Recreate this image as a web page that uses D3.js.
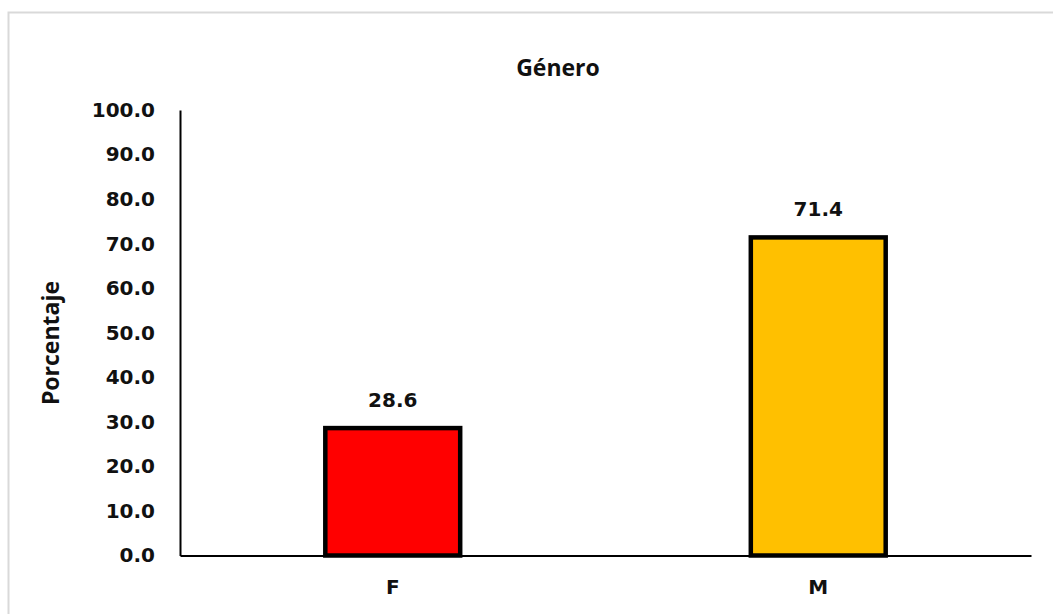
<!DOCTYPE html>
<html>
<head>
<meta charset="utf-8">
<script src="https://cdn.jsdelivr.net/npm/d3@7"></script>
<style>
  html, body { margin: 0; padding: 0; background: #fff; overflow: hidden; }
  svg { display: block; }
</style>
</head>
<body>
<svg id="chart" width="1053" height="614"></svg>
<script>
// Chart data
const categories = ["F", "M"];
const values = [28.6, 71.4];
const barColors = ["#ff0000", "#ffc000"];
const yTicks = [0, 10, 20, 30, 40, 50, 60, 70, 80, 90, 100];
const title = "Género";
const yTitle = "Porcentaje";

const svg = d3.select("#chart");
const plot = { left: 180, right: 1031, top: 110, bottom: 555.5 };

// Chart frame (runs past the visible edge on right/bottom)
svg.append("rect")
  .attr("x", 8.5).attr("y", 12.5)
  .attr("width", 1100).attr("height", 700)
  .attr("fill", "#fff")
  .attr("stroke", "#d9d9d9")
  .attr("stroke-width", 2);

const x = d3.scaleBand()
  .domain(categories)
  .range([plot.left, plot.right])
  .paddingInner(0.683)
  .paddingOuter(0.3415);

const y = d3.scaleLinear()
  .domain([0, 100])
  .range([plot.bottom, plot.top]);

const numFont = "'DejaVu Sans', sans-serif";
const textFont = "'Open Sans', sans-serif";

// Y axis
const yAxis = svg.append("g")
  .attr("transform", `translate(${plot.left},0)`)
  .call(d3.axisLeft(y).tickValues(yTicks).tickFormat(d3.format(".1f")).tickSize(0).tickPadding(25));
yAxis.select(".domain").attr("stroke", "#000").attr("stroke-width", 2);
yAxis.selectAll("text")
  .attr("font-family", numFont)
  .attr("font-weight", "bold")
  .attr("font-size", 20)
  .attr("fill", "#111");

// Bars
svg.append("g").selectAll("rect")
  .data(categories)
  .join("rect")
  .attr("x", d => x(d))
  .attr("width", x.bandwidth())
  .attr("y", (d, i) => y(values[i]))
  .attr("height", (d, i) => y(0) - y(values[i]))
  .attr("fill", (d, i) => barColors[i])
  .attr("stroke", "#000")
  .attr("stroke-width", 4.5);

// X axis
const xAxis = svg.append("g")
  .attr("transform", `translate(0,${plot.bottom})`)
  .call(d3.axisBottom(x).tickSize(0).tickPadding(24));
xAxis.select(".domain").attr("stroke", "#000").attr("stroke-width", 2);
xAxis.selectAll("text")
  .attr("font-family", numFont)
  .attr("font-weight", "bold")
  .attr("font-size", 20)
  .attr("fill", "#111");

// Value labels
svg.append("g").selectAll("text")
  .data(categories)
  .join("text")
  .attr("x", d => x(d) + x.bandwidth() / 2)
  .attr("y", (d, i) => y(values[i]) - 21)
  .attr("text-anchor", "middle")
  .attr("font-family", numFont)
  .attr("font-weight", "bold")
  .attr("font-size", 20)
  .attr("fill", "#111")
  .text((d, i) => values[i].toFixed(1));

// Title
svg.append("text")
  .attr("x", 558).attr("y", 76)
  .attr("text-anchor", "middle")
  .attr("font-family", textFont)
  .attr("font-weight", "bold")
  .attr("font-size", 23)
  .attr("fill", "#111")
  .text(title);

// Y axis title
svg.append("text")
  .attr("transform", "translate(59,343) rotate(-90)")
  .attr("text-anchor", "middle")
  .attr("font-family", textFont)
  .attr("font-weight", "bold")
  .attr("font-size", 23)
  .attr("fill", "#111")
  .text(yTitle);
</script>
</body>
</html>
